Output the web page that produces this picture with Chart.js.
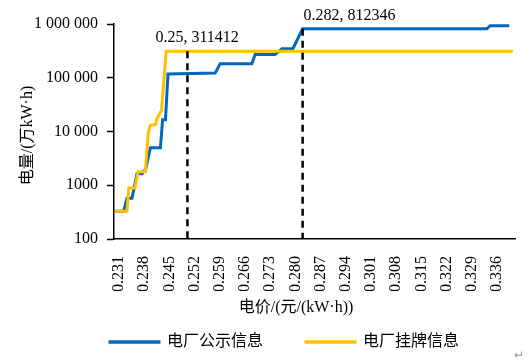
<!DOCTYPE html>
<html>
<head>
<meta charset="utf-8">
<script src="https://cdn.jsdelivr.net/npm/chart.js@4"></script>
<style>
  html, body { margin: 0; padding: 0; background: #fff; }
  .chart-box { width: 530px; height: 360px; position: relative; }
</style>
</head>
<body>
<div class="chart-box"><canvas id="priceChart"></canvas></div>
<script>
// 电价 / 电量 数据
const seriesNames = ['电厂公示信息', '电厂挂牌信息'];

const publicPrice = [0.2299, 0.2323, 0.2332, 0.2346, 0.2360, 0.2374, 0.2379, 0.2383, 0.2397, 0.2425,
  0.2431, 0.2439, 0.2446, 0.2577, 0.2591, 0.2679, 0.2688, 0.2743, 0.2763, 0.2793,
  0.2820, 0.3332, 0.3341, 0.3394];
const publicValue = [330, 330, 575, 575, 1630, 1630, 1850, 1850, 5000, 5000,
  16600, 16600, 118000, 122000, 183000, 183000, 270000, 270000, 346000, 346000,
  812346, 812346, 930000, 930000];

const listedPrice = [0.2299, 0.2332, 0.2337, 0.2354, 0.2363, 0.2383, 0.2391, 0.2397, 0.2411, 0.2416,
  0.2428, 0.2441, 0.3404];
const listedValue = [330, 330, 890, 890, 1780, 1780, 9300, 13000, 13400, 17800,
  24600, 311412, 311412];

const markPrice = [0.25, 0.282];
const markValue = [311412, 812346];
const markText = ['0.25, 311412', '0.282, 812346'];

const xTicks = [0.231, 0.238, 0.245, 0.252, 0.259, 0.266, 0.273, 0.280,
  0.287, 0.294, 0.301, 0.308, 0.315, 0.322, 0.329, 0.336];
const yTicks = [100, 1000, 10000, 100000, 1000000];
const yTickLabels = ['100', '1000', '10 000', '100 000', '1 000 000'];

const xTitle = '电价/(元/(kW·h))';
const yTitle = '电量/(万kW·h)';

const FONT = "'Liberation Serif', 'Noto Sans CJK SC', serif";
const BLUE = '#0068c0';
const ORANGE = '#ffc000';

const toPoints = (xs, ys) => xs.map((x, i) => ({ x, y: ys[i] }));

// 虚线标注 + 坐标轴标题
const markPlugin = {
  id: 'marks',
  afterLayout(chart) {
    // 图例整体右移，与原图对齐
    chart.legend.left += 27;
    chart.legend.right += 27;
  },
  afterDatasetsDraw(chart) {
    const { ctx, chartArea, scales: { x, y } } = chart;
    ctx.save();
    ctx.strokeStyle = '#000';
    ctx.lineWidth = 2.5;
    ctx.setLineDash([7, 5]);
    markPrice.forEach((p, i) => {
      const px = x.getPixelForValue(p);
      const py = y.getPixelForValue(markValue[i]);
      ctx.beginPath();
      ctx.moveTo(px, py);
      ctx.lineTo(px, chartArea.bottom);
      ctx.stroke();
    });
    ctx.setLineDash([]);
    ctx.fillStyle = '#000';
    ctx.font = '16px ' + FONT;
    ctx.textBaseline = 'middle';
    ctx.textAlign = 'left';
    markPrice.forEach((p, i) => {
      const px = x.getPixelForValue(p);
      const py = y.getPixelForValue(markValue[i]);
      const dx = i === 0 ? -32 : 1;
      ctx.fillText(markText[i], px + dx, py - 13);
    });
    ctx.restore();
  },
  afterDraw(chart) {
    const { ctx, chartArea } = chart;
    ctx.save();
    ctx.fillStyle = '#000';
    ctx.font = '16px ' + FONT;
    ctx.textAlign = 'center';
    ctx.textBaseline = 'middle';
    ctx.fillText(xTitle, chartArea.left + 182, chartArea.bottom + 69);
    ctx.translate(chartArea.left - 86, (chartArea.top + chartArea.bottom) / 2 + 4);
    ctx.rotate(-Math.PI / 2);
    ctx.fillText(yTitle, 0, 0);
    ctx.restore();
    ctx.save();
    ctx.fillStyle = '#999';
    ctx.font = '12px ' + FONT;
    ctx.fillText('↵', 514, 356);
    ctx.restore();
  }
};

new Chart(document.getElementById('priceChart'), {
  type: 'line',
  data: {
    datasets: [
      {
        label: seriesNames[0],
        data: toPoints(publicPrice, publicValue),
        borderColor: BLUE,
        backgroundColor: BLUE,
        borderWidth: 3,
        pointRadius: 0,
        tension: 0,
        order: 2,
      },
      {
        label: seriesNames[1],
        data: toPoints(listedPrice, listedValue),
        borderColor: ORANGE,
        backgroundColor: ORANGE,
        borderWidth: 3,
        pointRadius: 0,
        tension: 0,
        order: 1,
      }
    ]
  },
  options: {
    responsive: true,
    maintainAspectRatio: false,
    animation: false,
    layout: { padding: { top: 24, right: 15, left: 0, bottom: 0 } },
    plugins: {
      legend: {
        position: 'bottom',
        labels: {
          color: '#000',
          font: { family: FONT, size: 16 },
          boxWidth: 49,
          boxHeight: 0.5,
          padding: 43,
          sort: (a, b) => a.datasetIndex - b.datasetIndex
        }
      },
      tooltip: { enabled: false }
    },
    scales: {
      x: {
        type: 'linear',
        min: 0.2296,
        max: 0.3410,
        afterBuildTicks: (scale) => { scale.ticks = xTicks.map(v => ({ value: v })); },
        afterFit: (scale) => { scale.height = 52; },
        grid: { display: false },
        border: { display: true, color: '#000', width: 1.5 },
        ticks: {
          color: '#000',
          font: { family: FONT, size: 16 },
          minRotation: 90,
          maxRotation: 90,
          autoSkip: false,
          padding: 9,
          callback: (v) => Number(v).toFixed(3)
        }
      },
      y: {
        type: 'logarithmic',
        min: 100,
        max: 1000000,
        afterBuildTicks: (scale) => { scale.ticks = yTicks.map(v => ({ value: v })); },
        afterFit: (scale) => { scale.width = 114; },
        grid: {
          drawOnChartArea: false,
          drawTicks: true,
          tickLength: 7,
          tickColor: '#000',
          tickWidth: 1.5
        },
        border: { display: true, color: '#000', width: 1.5 },
        ticks: {
          color: '#000',
          font: { family: FONT, size: 16 },
          padding: 9,
          callback: (v, i) => yTickLabels[i]
        }
      }
    }
  },
  plugins: [markPlugin]
});
</script>
</body>
</html>
